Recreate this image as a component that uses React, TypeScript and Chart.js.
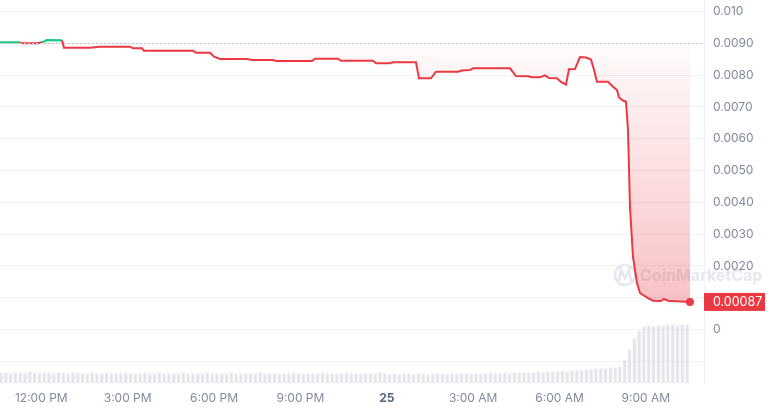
import React, { useEffect, useRef } from "react";
import { Chart, registerables } from "chart.js";

Chart.register(...registerables);

// Price series (time in hours since midnight of the 24th, price in USD)
const priceHours = [
  10.566, 11.26, 11.33, 11.851, 12.024, 12.198, 12.719, 12.789, 13.692, 14.039,
  15.081, 15.185, 15.498, 15.567, 17.269, 17.373, 17.86, 17.999, 18.207, 19.145,
  19.319, 20.048, 20.152, 21.403, 21.507, 22.306, 22.41, 23.521, 23.625, 24.112,
  24.216, 25.015, 25.119, 25.536, 25.71, 26.474, 26.613, 26.891, 26.995, 28.28,
  28.488, 28.905, 29.044, 29.322, 29.496, 29.635, 29.912, 30.051, 30.225, 30.329,
  30.538, 30.711, 30.92, 31.093, 31.2, 31.3, 31.684, 31.858, 31.997, 32.066,
  32.205, 32.309, 32.379, 32.448, 32.552, 32.691, 32.796, 32.9, 33.074, 33.247,
  33.525, 33.629, 33.768, 34.532,
];
const priceValues = [
  0.009032, 0.009032, 0.009, 0.009, 0.009032, 0.009104, 0.009095, 0.008862, 0.008862, 0.008893,
  0.008893, 0.008843, 0.008843, 0.008768, 0.008768, 0.008705, 0.008705, 0.008579, 0.008507, 0.008507,
  0.008475, 0.008475, 0.008444, 0.008444, 0.008516, 0.008516, 0.008453, 0.008453, 0.008372, 0.008372,
  0.008403, 0.008403, 0.0079, 0.0079, 0.008107, 0.008107, 0.008145, 0.008161, 0.008214, 0.008214,
  0.007972, 0.007963, 0.007931, 0.007931, 0.007994, 0.007909, 0.0079, 0.007784, 0.007699, 0.008183,
  0.008192, 0.00857, 0.008554, 0.008491, 0.008161, 0.007793, 0.007793, 0.007636, 0.007533, 0.007296,
  0.007202, 0.007164, 0.006275, 0.003854, 0.002282, 0.001465, 0.001151, 0.001088, 0.000993, 0.000908,
  0.000899, 0.000962, 0.000908, 0.00087,
];
const openPrice = 0.00901;
const lastPriceLabel = "0.00087";

// Volume bars (10-minute buckets, arbitrary units)
const volumeStartHour = 10.6;
const volumeStepHours = 1 / 6;
const volumeValues = [
  10, 10, 9, 10, 10, 9, 11, 10, 9, 10, 10, 9, 10, 10, 9, 10, 10, 9, 9, 10,
  9, 9, 10, 9, 9, 9, 10, 9, 9, 9, 10, 9, 9, 10, 9, 9, 9, 9, 10, 9,
  9, 9, 9, 10, 9, 9, 9, 9, 10, 9, 9, 9, 9, 9, 10, 9, 9, 9, 9, 9,
  9, 10, 9, 9, 9, 9, 9, 10, 9, 9, 9, 9, 10, 9, 9, 9, 9, 9, 9, 10,
  9, 8, 9, 8, 9, 9, 8, 9, 9, 8, 9, 9, 9, 8, 9, 9, 9, 9, 9, 9,
  9, 9, 10, 9, 9, 10, 9, 10, 10, 10, 10, 10, 11, 10, 11, 11, 11, 12, 11, 12,
  12, 12, 13, 13, 14, 14, 14, 15, 15, 16, 22, 33, 44, 52, 56, 57, 56, 57, 57, 58,
  58, 57, 58, 58,
];

// Axis ticks
const xTickHours = [12, 15, 18, 21, 24, 27, 30, 33];
const xTickLabels = ["12:00 PM", "3:00 PM", "6:00 PM", "9:00 PM", "25", "3:00 AM", "6:00 AM", "9:00 AM"];
const yTickValues = [-0.001, 0, 0.001, 0.002, 0.003, 0.004, 0.005, 0.006, 0.007, 0.008, 0.009, 0.01];
const yTickLabels = ["", "0", "", "0.0020", "0.0030", "0.0040", "0.0050", "0.0060", "0.0070", "0.0080", "0.0090", "0.010"];

const RED = "#ea3943";
const GREEN = "#16c784";
const FONT = "Inter, 'Noto Sans', sans-serif";

export default function App() {
  const ref = useRef<HTMLCanvasElement | null>(null);

  useEffect(() => {
    const canvas = ref.current;
    if (!canvas) return;

    const pricePoints = priceHours.map((h, i) => ({ x: h, y: priceValues[i] }));
    const volumePoints = volumeValues.map((v, i) => ({ x: volumeStartHour + i * volumeStepHours, y: v }));
    const lastIndex = pricePoints.length - 1;

    const overlay = {
      id: "overlay",
      beforeDraw(chart: any) {
        const c = chart.ctx;
        // watermark
        c.save();
        c.globalAlpha = 0.3;
        c.strokeStyle = "#a6b0c3";
        c.lineWidth = 2.5;
        c.beginPath();
        c.arc(625, 275, 10, 0, Math.PI * 2);
        c.stroke();
        c.beginPath();
        c.moveTo(619, 281);
        c.lineTo(621, 270);
        c.lineTo(625, 278);
        c.lineTo(629, 270);
        c.lineTo(631, 281);
        c.stroke();
        c.fillStyle = "#a6b0c3";
        c.font = `bold 16px ${FONT}`;
        c.textBaseline = "middle";
        c.fillText("CoinMarketCap", 640, 276);
        c.restore();
      },
      afterDatasetsDraw(chart: any) {
        const c = chart.ctx;
        const y = chart.scales.y;
        const area = chart.chartArea;
        const py = y.getPixelForValue(openPrice);
        c.save();
        c.strokeStyle = "#c3c8d0";
        c.lineWidth = 1;
        c.setLineDash([2, 2]);
        c.beginPath();
        c.moveTo(area.left, Math.round(py) + 0.5);
        c.lineTo(area.right, Math.round(py) + 0.5);
        c.stroke();
        c.restore();
      },
      afterDraw(chart: any) {
        const c = chart.ctx;
        const y = chart.scales.y;
        const area = chart.chartArea;
        const py = y.getPixelForValue(priceValues[lastIndex]);
        c.save();
        c.fillStyle = RED;
        c.fillRect(area.right, py - 9, 61, 18);
        c.fillStyle = "#ffffff";
        c.font = `12.5px ${FONT}`;
        c.textBaseline = "middle";
        c.fillText(lastPriceLabel, area.right + 9, py + 0.5);
        c.restore();
      },
    };

    const chart = new Chart(canvas, {
      data: {
        datasets: [
          {
            type: "line",
            data: pricePoints,
            yAxisID: "y",
            order: 0,
            borderWidth: 2,
            borderColor: RED,
            tension: 0,
            pointRadius: (c: any) => (c.dataIndex === lastIndex ? 4 : 0),
            pointBackgroundColor: RED,
            pointBorderWidth: 0,
            segment: {
              borderColor: (c: any) =>
                c.p0.parsed.y >= openPrice && c.p1.parsed.y >= openPrice ? GREEN : RED,
            },
            backgroundColor: (c: any) => {
              const chart = c.chart;
              const area = chart.chartArea;
              if (!area || !chart.scales.y) return "rgba(234,57,67,0.15)";
              const ys = chart.scales.y;
              const top = ys.getPixelForValue(openPrice);
              const bottom = ys.getPixelForValue(0);
              const g = chart.ctx.createLinearGradient(0, top, 0, bottom);
              g.addColorStop(0, "rgba(234,57,67,0.02)");
              g.addColorStop(1, "rgba(234,57,67,0.34)");
              return g;
            },
            fill: { target: { value: openPrice }, above: "rgba(22,199,132,0.12)" },
          } as any,
          {
            type: "bar",
            data: volumePoints,
            yAxisID: "yv",
            order: 1,
            backgroundColor: "rgba(205,210,219,0.55)",
            barThickness: 2.5,
          } as any,
        ],
      },
      options: {
        animation: false,
        responsive: false,
        maintainAspectRatio: false,
        layout: { padding: 0, autoPadding: false },
        plugins: { legend: { display: false }, tooltip: { enabled: false } },
        scales: {
          x: {
            type: "linear",
            position: "bottom",
            offset: false,
            min: 10.5655,
            max: 35.019,
            afterBuildTicks: (s: any) => {
              s.ticks = xTickHours.map((v) => ({ value: v }));
            },
            afterFit: (s: any) => {
              s.height = 26;
              s.paddingLeft = 0;
              s.paddingRight = 0;
            },
            grid: { display: false, drawTicks: false, offset: false },
            border: { display: false },
            ticks: {
              autoSkip: false,
              maxRotation: 0,
              padding: 8,
              callback: (_v: any, i: number) => xTickLabels[i],
              color: (c: any) => (c.tick && c.tick.value === 24 ? "#58667e" : "#808a9d"),
              font: (c: any) =>
                c.tick && c.tick.value === 24
                  ? { family: FONT, size: 12, weight: "bold" }
                  : { family: FONT, size: 12 },
            },
          },
          y: {
            type: "linear",
            position: "right",
            min: -0.001679,
            max: 0.010362,
            afterBuildTicks: (s: any) => {
              s.ticks = yTickValues.map((v) => ({ value: v }));
            },
            afterFit: (s: any) => {
              s.width = 64;
              s.paddingTop = 0;
              s.paddingBottom = 0;
            },
            grid: { color: "#f1f2f5", drawTicks: false, lineWidth: 1 },
            border: { display: true, color: "#eff1f4" },
            ticks: {
              padding: 9,
              color: "#808a9d",
              font: { family: FONT, size: 12 },
              callback: (_v: any, i: number) => yTickLabels[i],
            },
          },
          yv: {
            type: "linear",
            display: false,
            min: 0,
            max: 383,
          },
        },
      } as any,
      plugins: [overlay],
    } as any);

    return () => chart.destroy();
  }, []);

  return (
    <div style={{ position: "fixed", left: 0, top: 0, width: 768, height: 409, background: "#fff" }}>
      <canvas ref={ref} width={768} height={409} style={{ display: "block" }} />
    </div>
  );
}
